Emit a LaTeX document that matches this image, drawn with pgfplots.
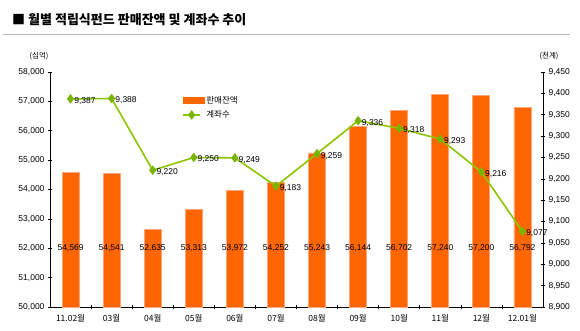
\documentclass[border=0pt]{standalone}
\usepackage{pgfplots}
\pgfplotsset{compat=1.18}
\usepackage{fontspec}
\setmainfont{Liberation Sans}
\newfontfamily\kr{Noto Sans CJK KR}
\definecolor{barfill}{RGB}{255,102,0}
\definecolor{baredge}{RGB}{255,165,120}
\definecolor{linec}{RGB}{140,196,0}
\definecolor{markc}{RGB}{120,180,0}
\begin{document}
\begin{tikzpicture}[x=1pt,y=1pt]
\path[use as bounding box] (0,0) rectangle (580,330);
\node[anchor=base west, font=\kr\bfseries\fontsize{13}{15}\selectfont, inner sep=0] at (12,305) {■ 월별 적립식펀드 판매잔액 및 계좌수 추이};
\draw[gray!55, line width=1pt] (3,295.5) -- (570,295.5);
\node[font=\kr\fontsize{7.5}{9}\selectfont] at (39,274) {(십억)};
\node[font=\kr\fontsize{7.5}{9}\selectfont] at (549,274) {(천계)};
\begin{axis}[
  at={(50pt,23pt)}, anchor=south west, scale only axis,
  width=493pt, height=235pt,
  xmin=-0.5, xmax=11.5, ymin=50000, ymax=58000,
  ytick distance=1000, scaled y ticks=false,
  axis x line*=bottom, axis y line*=left,
  axis line style={black, line width=0.8pt},
  xtick={0,...,11},
  xticklabels={11.02월,03월,04월,05월,06월,07월,08월,09월,10월,11월,12월,12.01월},
  major x tick style={draw=none},
  minor xtick={0.5,1.5,2.5,3.5,4.5,5.5,6.5,7.5,8.5,9.5,10.5},
  tick align=center, major tick length=4pt, minor tick length=4pt,
  tick style={black, line width=0.6pt},
  /pgf/number format/.cd, fixed, 1000 sep={,}, assume math mode=true, /pgfplots/.cd,
  yticklabel style={font=\fontsize{8.5}{10}\selectfont},
  xticklabel style={font=\kr\fontsize{8.5}{10}\selectfont, yshift=-2pt},
  clip=false,
]
\addplot[ybar, bar width=17pt, fill=barfill, draw=baredge, line width=0.8pt]
  coordinates {(0,54569) (1,54541) (2,52635) (3,53313) (4,53972) (5,54252) (6,55243) (7,56144) (8,56702) (9,57240) (10,57200) (11,56792)};
\addplot[draw=none, mark=none, nodes near coords, point meta=explicit,
  every node near coord/.append style={anchor=center, font=\fontsize{8.5}{10}\selectfont, inner sep=0pt}]
  table[x=x, y expr=52000, meta=v] {
x v
0 54569
1 54541
2 52635
3 53313
4 53972
5 54252
6 55243
7 56144
8 56702
9 57240
10 57200
11 56792
};
\end{axis}
\begin{axis}[
  at={(50pt,23pt)}, anchor=south west, scale only axis,
  width=493pt, height=235pt,
  xmin=-0.5, xmax=11.5, ymin=8900, ymax=9450,
  ytick distance=50, scaled y ticks=false,
  axis x line=none, axis y line*=right,
  axis line style={black, line width=0.8pt},
  tick align=center, major tick length=4pt,
  tick style={black, line width=0.6pt},
  /pgf/number format/.cd, fixed, 1000 sep={,}, assume math mode=true, /pgfplots/.cd,
  yticklabel style={font=\fontsize{8.5}{10}\selectfont},
  clip=false,
  legend style={at={(rel axis cs:0.262,0.915)}, anchor=north west, draw=none, fill=none,
    font=\kr\fontsize{8.5}{10}\selectfont, row sep=2pt},
  legend cell align=left,
]
\addlegendimage{legend image code/.code={\fill[barfill] (0pt,-3pt) rectangle (21pt,3pt);}}
\addlegendentry{판매잔액}
\addplot[linec, line width=1.6pt, mark=diamond*, mark size=3.5pt,
  mark options={fill=markc, draw=markc},
  nodes near coords, point meta=y,
  every node near coord/.append style={anchor=west, xshift=2pt, yshift=-2pt, font=\fontsize{8.5}{10}\selectfont, inner sep=1pt, text=black}]
  coordinates {(0,9387) (1,9388) (2,9220) (3,9250) (4,9249) (5,9183) (6,9259) (7,9336) (8,9318) (9,9293) (10,9216) (11,9077)};
\addlegendentry{계좌수}
\end{axis}
\end{tikzpicture}
\end{document}
